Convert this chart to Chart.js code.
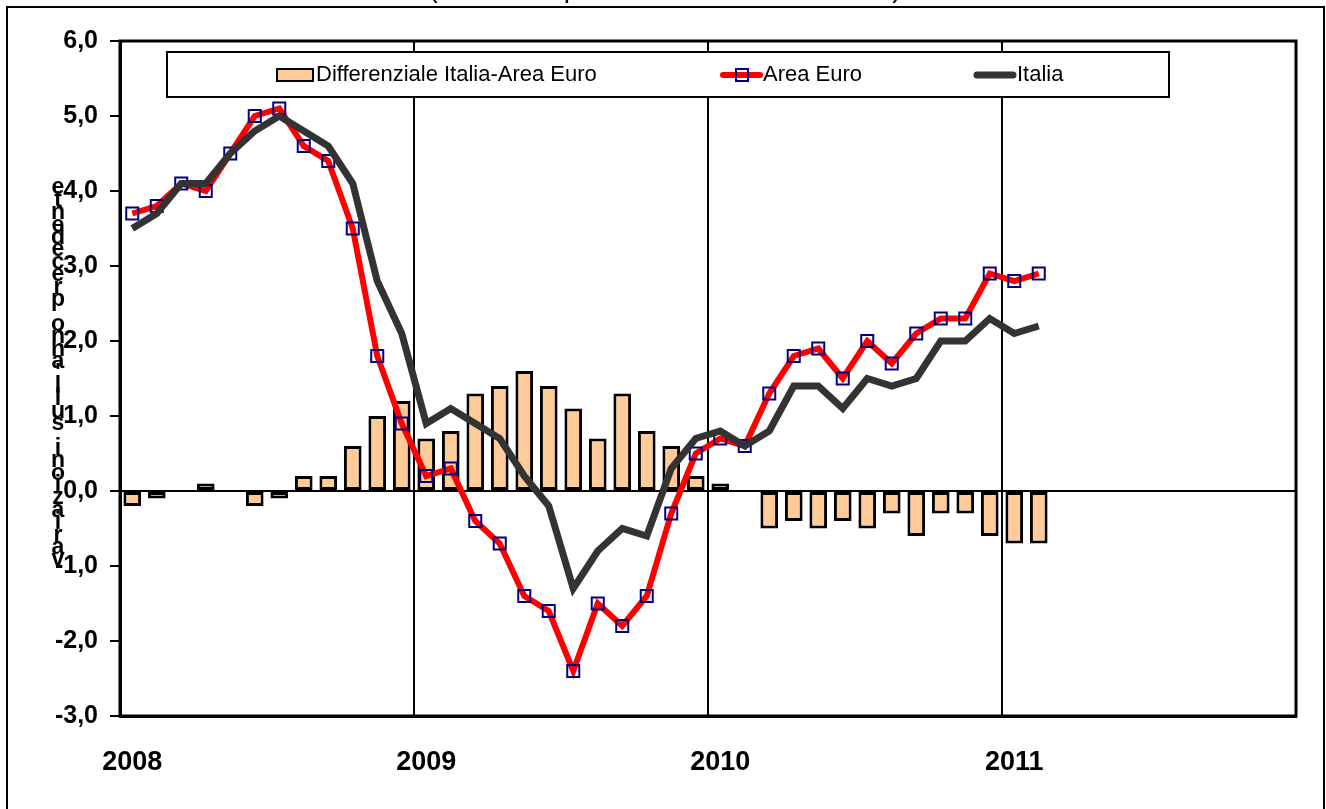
<!DOCTYPE html>
<html>
<head>
<meta charset="utf-8">
<script src="https://cdn.jsdelivr.net/npm/chart.js@4.4.1/dist/chart.umd.min.js"></script>
<style>
  html, body { margin: 0; padding: 0; background: #fff; }
  canvas { display: block; }
</style>
</head>
<body>
<canvas id="chart" width="1326" height="809"></canvas>
<script>
// Asse x: mesi da gen 2008 a dic 2011
const years = ['2008', '2009', '2010', '2011'];
const monthNames = ['gen', 'feb', 'mar', 'apr', 'mag', 'giu', 'lug', 'ago', 'set', 'ott', 'nov', 'dic'];

// Serie mensili (gen 2008 - feb 2011)
const areaEuro = [3.7, 3.8, 4.1, 4.0, 4.5, 5.0, 5.1, 4.6, 4.4, 3.5, 1.8, 0.9,
                  0.2, 0.3, -0.4, -0.7, -1.4, -1.6, -2.4, -1.5, -1.8, -1.4, -0.3, 0.5,
                  0.7, 0.6, 1.3, 1.8, 1.9, 1.5, 2.0, 1.7, 2.1, 2.3, 2.3, 2.9,
                  2.8, 2.9];
const italia = [3.5, 3.7, 4.1, 4.1, 4.5, 4.8, 5.0, 4.8, 4.6, 4.1, 2.8, 2.1,
                0.9, 1.1, 0.9, 0.7, 0.2, -0.2, -1.3, -0.8, -0.5, -0.6, 0.3, 0.7,
                0.8, 0.6, 0.8, 1.4, 1.4, 1.1, 1.5, 1.4, 1.5, 2.0, 2.0, 2.3,
                2.1, 2.2];
const differenziale = [-0.2, -0.1, 0.0, 0.1, 0.0, -0.2, -0.1, 0.2, 0.2, 0.6, 1.0, 1.2,
                       0.7, 0.8, 1.3, 1.4, 1.6, 1.4, 1.1, 0.7, 1.3, 0.8, 0.6, 0.2,
                       0.1, 0.0, -0.5, -0.4, -0.5, -0.4, -0.5, -0.3, -0.6, -0.3, -0.3, -0.6,
                       -0.7, -0.7];

// Tacche asse y
const yMin = -3;
const yMax = 6;
const yStep = 1;

const axisTitle = "variazioni sull'anno precedente";
const chartTitle = '(variazioni percentuali sui dodici mesi)';

// Build category labels
const labels = [];
years.forEach(y => monthNames.forEach(m => labels.push(m + ' ' + y)));

const FONT = "'Liberation Sans', Arial, sans-serif";
Chart.defaults.font.family = FONT;
Chart.defaults.color = '#000';

// Decorations: frame, plot box, legend, stacked axis title
const decorations = {
    id: 'decorations',
    beforeDraw(chart) {
        const ctx = chart.ctx;
        ctx.save();
        ctx.fillStyle = '#fff';
        ctx.fillRect(0, 0, chart.width, chart.height);
        ctx.restore();
    },
    afterDraw(chart) {
        const ctx = chart.ctx;
        const a = chart.chartArea;
        const ds = chart.data.datasets;
        ctx.save();

        // title, mostly cut off by the top of the picture
        ctx.fillStyle = '#000';
        ctx.font = '28px ' + FONT;
        ctx.textAlign = 'center';
        ctx.textBaseline = 'alphabetic';
        ctx.fillText(chartTitle, 665, -3);

        // outer frame
        ctx.strokeStyle = '#000';
        ctx.lineWidth = 2;
        ctx.strokeRect(7, 7, 1317, 830);

        // plot box
        ctx.lineWidth = 3;
        ctx.strokeRect(a.left, a.top, a.right - a.left, a.bottom - a.top);

        // legend
        ctx.fillStyle = '#fff';
        ctx.fillRect(167, 52, 1002, 45);
        ctx.lineWidth = 2;
        ctx.strokeRect(167, 52, 1002, 45);

        ctx.font = '22px ' + FONT;
        ctx.textAlign = 'left';
        ctx.textBaseline = 'middle';
        const ly = 75;

        // bar swatch
        ctx.fillStyle = ds[0].backgroundColor;
        ctx.fillRect(277, 69, 36, 12);
        ctx.strokeStyle = ds[0].borderColor;
        ctx.lineWidth = 2;
        ctx.strokeRect(277, 69, 36, 12);
        ctx.fillStyle = '#000';
        ctx.fillText(ds[0].label, 316, ly);

        // area euro line + marker
        ctx.lineCap = 'round';
        ctx.strokeStyle = ds[1].borderColor;
        ctx.lineWidth = ds[1].borderWidth;
        ctx.beginPath();
        ctx.moveTo(723, ly);
        ctx.lineTo(760, ly);
        ctx.stroke();
        ctx.strokeStyle = ds[1].pointBorderColor;
        ctx.lineWidth = ds[1].pointBorderWidth;
        ctx.strokeRect(736, ly - 6, 12, 12);
        ctx.fillStyle = '#000';
        ctx.fillText(ds[1].label, 763, ly);

        // italia line
        ctx.strokeStyle = ds[2].borderColor;
        ctx.lineWidth = ds[2].borderWidth;
        ctx.beginPath();
        ctx.moveTo(977, ly);
        ctx.lineTo(1013, ly);
        ctx.stroke();
        ctx.fillStyle = '#000';
        ctx.fillText(ds[2].label, 1017, ly);

        // stacked y-axis title (letters drawn bottom-up)
        ctx.font = 'bold 23px ' + FONT;
        ctx.textAlign = 'center';
        const chars = axisTitle.split('').reverse();
        chars.forEach((c, i) => {
            ctx.fillText(c, 58, 188 + i * 12.4);
        });

        ctx.restore();
    }
};

const ctx = document.getElementById('chart').getContext('2d');
const chart = new Chart(ctx, {
    type: 'bar',
    data: {
        labels: labels,
        datasets: [
            {
                label: 'Differenziale Italia-Area Euro',
                data: differenziale,
                backgroundColor: '#FFCC99',
                borderColor: '#000',
                borderWidth: 3,
                borderSkipped: false,
                barPercentage: 0.72,
                categoryPercentage: 1,
                order: 3
            },
            {
                type: 'line',
                label: 'Area Euro',
                data: areaEuro,
                borderColor: '#FF0000',
                borderWidth: 6,
                pointStyle: 'rect',
                pointRadius: 8.5,
                pointBorderColor: '#000080',
                pointBorderWidth: 2,
                pointBackgroundColor: 'rgba(0,0,0,0)',
                tension: 0,
                order: 2
            },
            {
                type: 'line',
                label: 'Italia',
                data: italia,
                borderColor: '#333333',
                borderWidth: 7,
                pointRadius: 0,
                tension: 0,
                order: 1
            }
        ]
    },
    options: {
        responsive: false,
        animation: false,
        layout: {
            padding: { left: 0, top: 41, right: 30, bottom: 0 }
        },
        plugins: {
            legend: { display: false },
            tooltip: { enabled: false }
        },
        scales: {
            x: {
                offset: true,
                afterFit: s => { s.height = 93; },
                grid: {
                    offset: true,
                    drawTicks: false,
                    lineWidth: 2,
                    color: c => (c.index && c.index % 12 === 0) ? '#000' : 'rgba(0,0,0,0)'
                },
                border: { display: true, color: '#000', width: 3 },
                ticks: {
                    autoSkip: false,
                    maxRotation: 0,
                    padding: 30,
                    font: { size: 27, weight: 'bold' },
                    callback: function(value, index) {
                        return index % 12 === 0 ? this.getLabelForValue(value).split(' ')[1] : '';
                    }
                }
            },
            y: {
                min: yMin,
                max: yMax,
                afterFit: s => { s.width = 120; },
                grid: {
                    lineWidth: 2,
                    tickLength: 10,
                    tickColor: '#000',
                    color: c => (c.tick && c.tick.value === 0) ? '#000' : 'rgba(0,0,0,0)'
                },
                border: { display: true, color: '#000', width: 3 },
                ticks: {
                    stepSize: yStep,
                    padding: 12,
                    font: { size: 25, weight: 'bold' },
                    callback: v => v.toFixed(1).replace('.', ',')
                }
            }
        }
    },
    plugins: [decorations]
});
</script>
</body>
</html>
